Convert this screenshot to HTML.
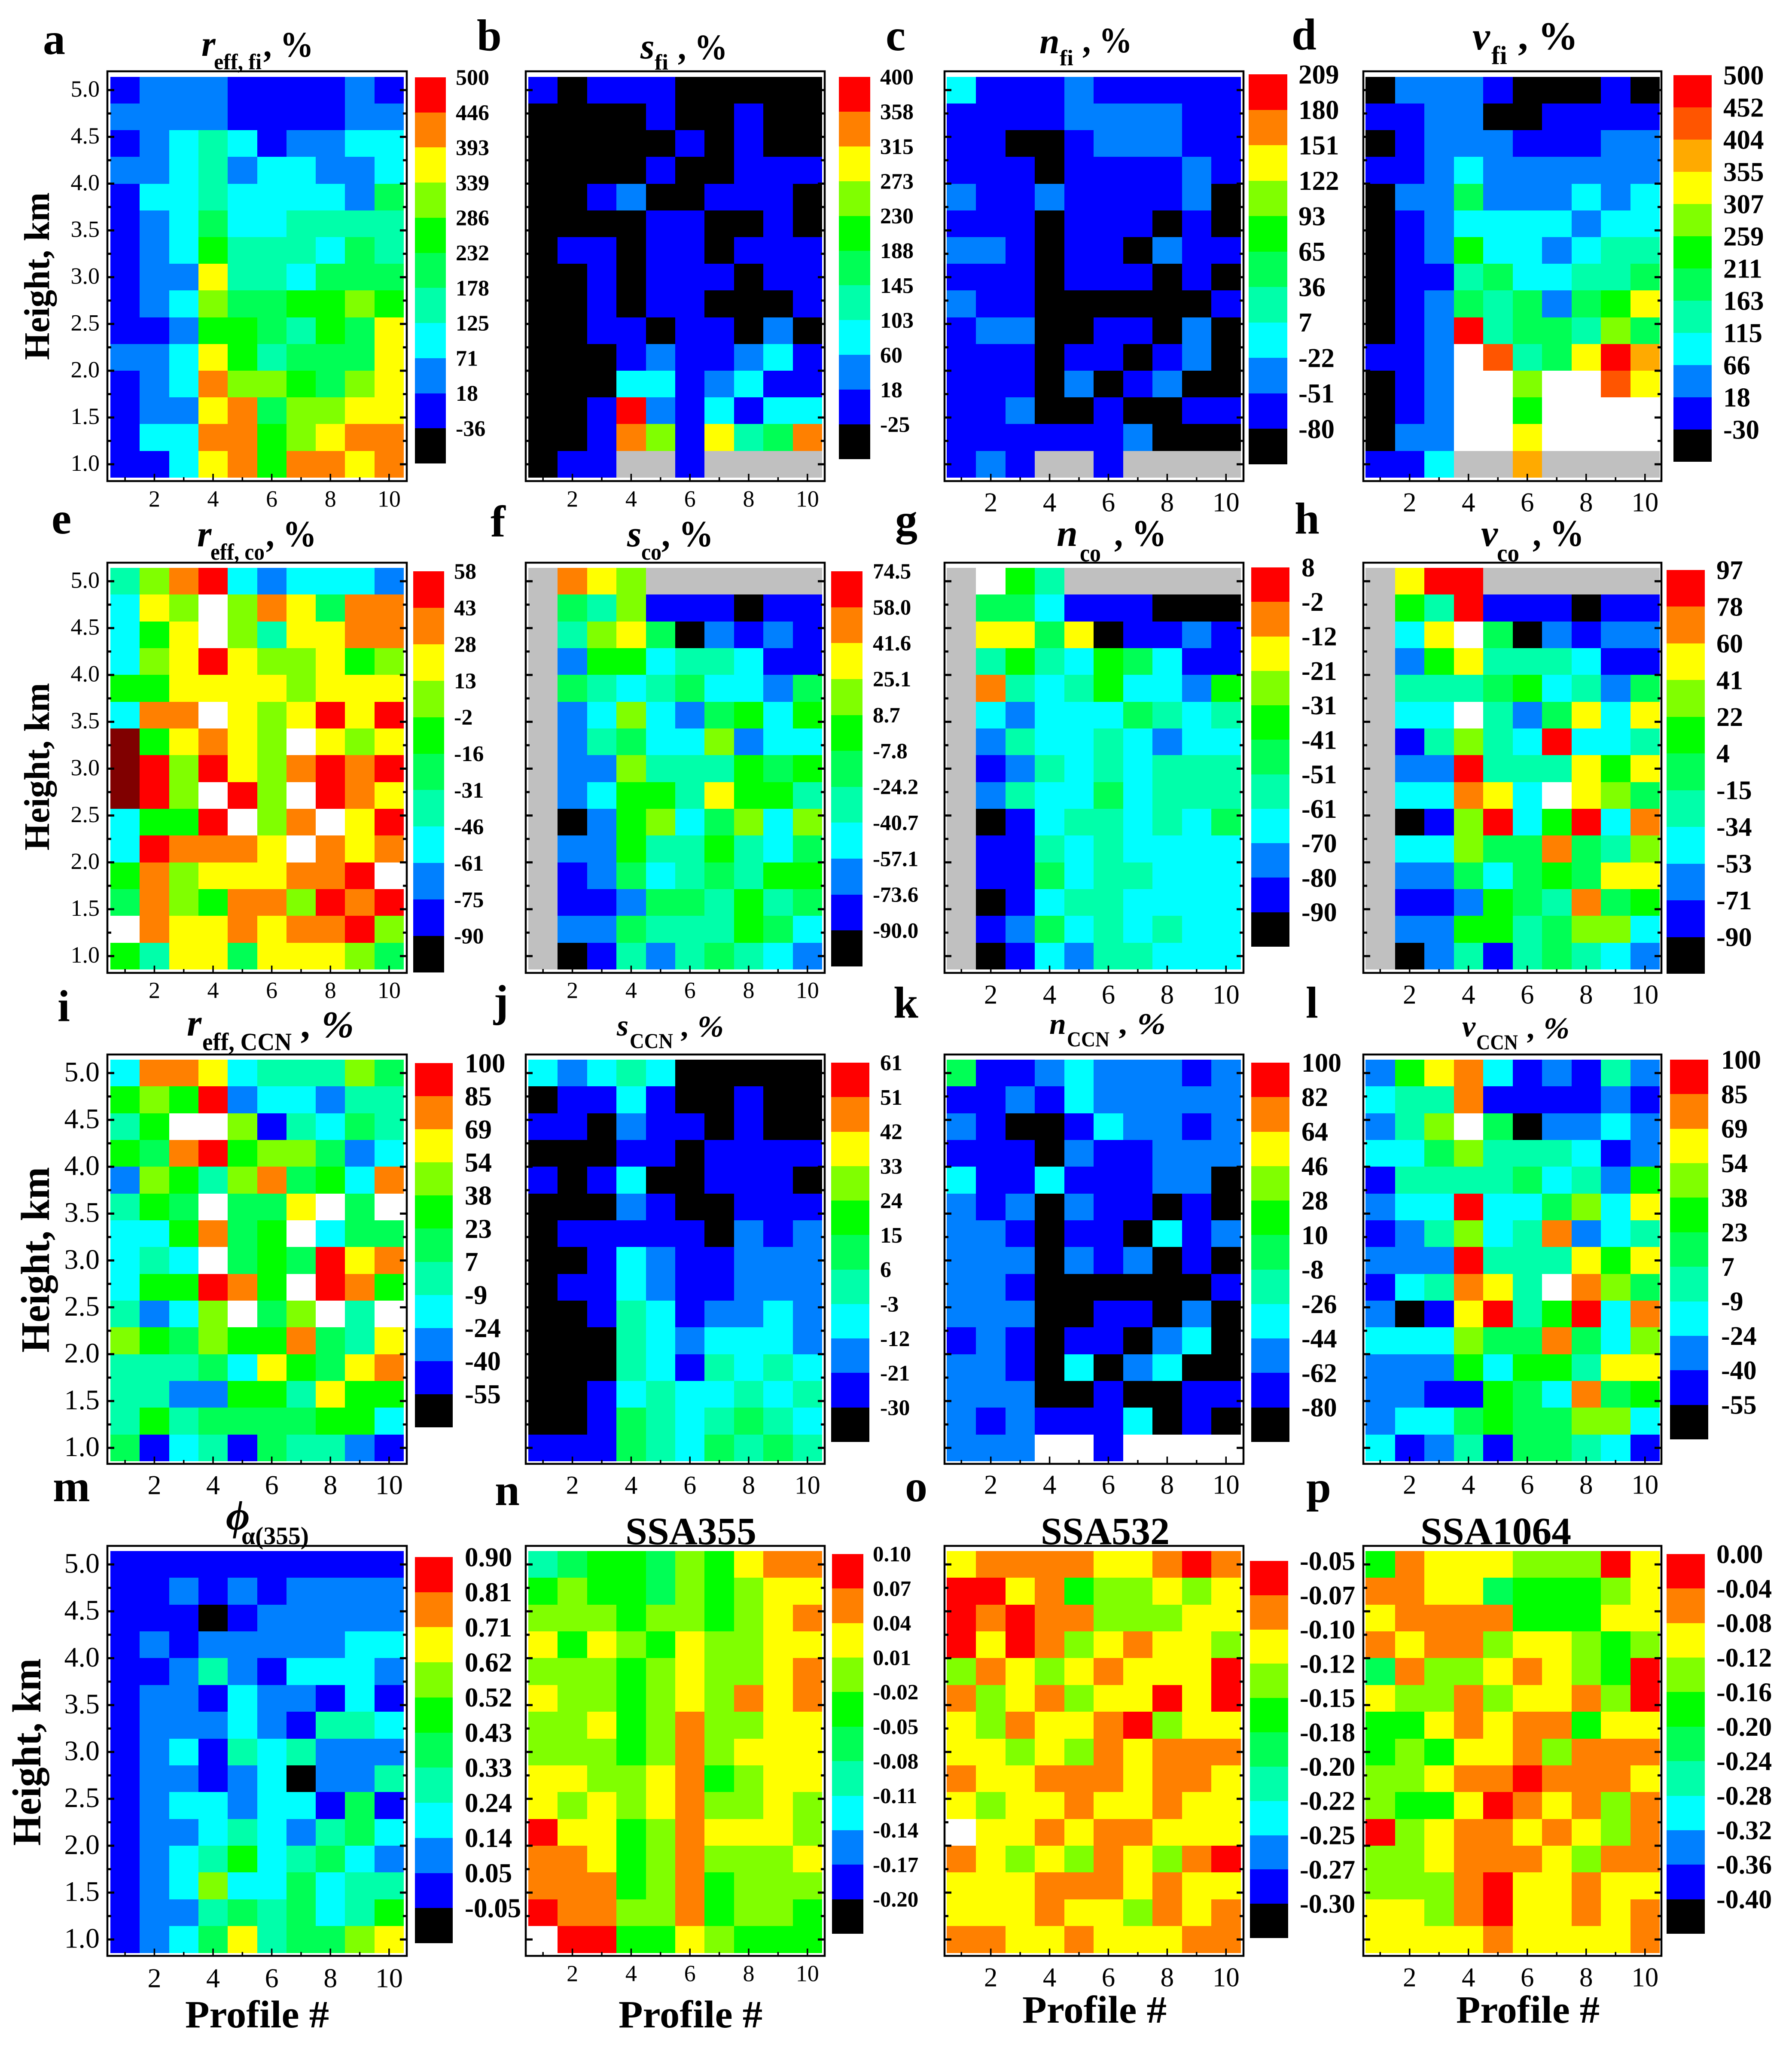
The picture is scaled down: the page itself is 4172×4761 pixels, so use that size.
<!DOCTYPE html>
<html lang="en">
<head>
<meta charset="utf-8">
<title>Heatmap panels of relative differences by profile and height</title>
<style>
html,body{margin:0;padding:0;background:#fff;}
svg{display:block;}
text{font-family:"Liberation Serif","DejaVu Serif",serif;fill:#000;}
.b{font-weight:bold;}
.bi{font-weight:bold;font-style:italic;}
</style>
</head>
<body>
<svg id="chart" xmlns="http://www.w3.org/2000/svg" width="4172" height="4761" viewBox="0 0 4172 4761">
<rect x="0" y="0" width="4172" height="4761" fill="#fff"/>
<g id="panels"></g>

<g class="b" font-size="104">
<text class="b" x="100" y="126">a</text>
<text class="b" x="1110" y="117">b</text>
<text class="b" x="2062" y="117">c</text>
<text class="b" x="3007" y="115">d</text>
<text class="b" x="120" y="1242">e</text>
<text class="b" x="1142" y="1249">f</text>
<text class="b" x="2084" y="1245">g</text>
<text class="b" x="3014" y="1242">h</text>
<text class="b" x="134" y="2377">i</text>
<text class="b" x="1149" y="2365">j</text>
<text class="b" x="2080" y="2369">k</text>
<text class="b" x="3040" y="2369">l</text>
<text class="b" x="123" y="3495">m</text>
<text class="b" x="1152" y="3504">n</text>
<text class="b" x="2107" y="3495">o</text>
<text class="b" x="3041" y="3497">p</text>
</g>

<g>
<g><text class="bi" x="469" y="130" font-size="84">r</text><text class="b" x="498" y="161" font-size="52" textLength="111" lengthAdjust="spacingAndGlyphs">eff, fi</text><text class="b" x="613" y="132" font-size="84" textLength="117" lengthAdjust="spacingAndGlyphs">, %</text></g>
<g><text class="bi" x="1491" y="136" font-size="84">s</text><text class="b" x="1524" y="162" font-size="52">fi</text><text class="b" x="1578" y="138" font-size="84" textLength="116" lengthAdjust="spacingAndGlyphs">, %</text></g>
<g><text class="bi" x="2420" y="124" font-size="84">n</text><text class="b" x="2467" y="152" font-size="52">fi</text><text class="b" x="2520" y="122" font-size="84" textLength="116" lengthAdjust="spacingAndGlyphs">, %</text></g>
<g><text class="bi" x="3428" y="115" font-size="92">v</text><text class="b" x="3472" y="149" font-size="60">fi</text><text class="b" x="3534" y="115" font-size="92" textLength="140" lengthAdjust="spacingAndGlyphs">, %</text></g>

<g><text class="bi" x="459" y="1272" font-size="86">r</text><text class="b" x="490" y="1303" font-size="54" textLength="126" lengthAdjust="spacingAndGlyphs">eff, co</text><text class="b" x="619" y="1272" font-size="86" textLength="118" lengthAdjust="spacingAndGlyphs">, %</text></g>
<g><text class="bi" x="1460" y="1272" font-size="86">s</text><text class="b" x="1493" y="1303" font-size="54" textLength="47" lengthAdjust="spacingAndGlyphs">co</text><text class="b" x="1540" y="1272" font-size="86" textLength="121" lengthAdjust="spacingAndGlyphs">, %</text></g>
<g><text class="bi" x="2460" y="1271" font-size="88">n</text><text class="b" x="2514" y="1307" font-size="58" textLength="49" lengthAdjust="spacingAndGlyphs">co</text><text class="b" x="2594" y="1271" font-size="88" textLength="122" lengthAdjust="spacingAndGlyphs">, %</text></g>
<g><text class="bi" x="3448" y="1271" font-size="88">v</text><text class="b" x="3485" y="1307" font-size="58" textLength="52" lengthAdjust="spacingAndGlyphs">co</text><text class="b" x="3568" y="1271" font-size="88" textLength="120" lengthAdjust="spacingAndGlyphs">, %</text></g>

<g><text class="bi" x="435" y="2411" font-size="88">r</text><text class="b" x="471" y="2445" font-size="58" textLength="208" lengthAdjust="spacingAndGlyphs">eff, CCN</text><text class="bi" x="703" y="2415" font-size="88" textLength="121" lengthAdjust="spacingAndGlyphs">, %</text></g>
<g><text class="bi" x="1436" y="2411" font-size="70">s</text><text class="b" x="1466" y="2440" font-size="50" textLength="101" lengthAdjust="spacingAndGlyphs">CCN</text><text class="bi" x="1587" y="2413" font-size="70" textLength="98" lengthAdjust="spacingAndGlyphs">, %</text></g>
<g><text class="bi" x="2443" y="2407" font-size="70">n</text><text class="b" x="2484" y="2436" font-size="50" textLength="99" lengthAdjust="spacingAndGlyphs">CCN</text><text class="bi" x="2607" y="2407" font-size="70" textLength="107" lengthAdjust="spacingAndGlyphs">, %</text></g>
<g><text class="bi" x="3404" y="2413" font-size="70">v</text><text class="b" x="3437" y="2443" font-size="50" textLength="97" lengthAdjust="spacingAndGlyphs">CCN</text><text class="bi" x="3557" y="2417" font-size="70" textLength="97" lengthAdjust="spacingAndGlyphs">, %</text></g>

<g><text class="bi" x="526" y="3561" font-size="96">ϕ</text><text class="b" x="562" y="3595" font-size="58" textLength="157" lengthAdjust="spacingAndGlyphs">α(355)</text></g>
<text class="b" x="1456" y="3595" font-size="90" textLength="305" lengthAdjust="spacingAndGlyphs">SSA355</text>
<text class="b" x="2423" y="3595" font-size="90" textLength="300" lengthAdjust="spacingAndGlyphs">SSA532</text>
<text class="b" x="3307" y="3595" font-size="90" textLength="351" lengthAdjust="spacingAndGlyphs">SSA1064</text>
</g>

<g>
<text class="b" font-size="84" text-anchor="middle" transform="translate(114,643) rotate(-90)" textLength="390" lengthAdjust="spacingAndGlyphs">Height, km</text>
<text class="b" font-size="84" text-anchor="middle" transform="translate(114,1785) rotate(-90)" textLength="390" lengthAdjust="spacingAndGlyphs">Height, km</text>
<text class="b" font-size="94" text-anchor="middle" transform="translate(114,2933) rotate(-90)" textLength="432" lengthAdjust="spacingAndGlyphs">Height, km</text>
<text class="b" font-size="94" text-anchor="middle" transform="translate(94,4079) rotate(-90)" textLength="436" lengthAdjust="spacingAndGlyphs">Height, km</text>
<text class="b" x="431" y="4720" font-size="90" textLength="335" lengthAdjust="spacingAndGlyphs">Profile #</text>
<text class="b" x="1440" y="4720" font-size="90" textLength="335" lengthAdjust="spacingAndGlyphs">Profile #</text>
<text class="b" x="2380" y="4709" font-size="90" textLength="336" lengthAdjust="spacingAndGlyphs">Profile #</text>
<text class="b" x="3390" y="4709" font-size="90" textLength="334" lengthAdjust="spacingAndGlyphs">Profile #</text>
</g>
</svg>

<script>
const profiles = [1,2,3,4,5,6,7,8,9,10];
const heights = [5.0,4.714,4.429,4.143,3.857,3.571,3.286,3.0,2.714,2.429,2.143,1.857,1.571,1.286,1.0];
const profileTicks = [2,4,6,8,10];
const profileMinorTicks = [1,3,5,7,9];
const heightTicks = [5.0,4.5,4.0,3.5,3.0,2.5,2.0,1.5,1.0];
const heightMinorTicks = [4.75,4.25,3.75,3.25,2.75,2.25,1.75,1.25];

const ticksA = [500,446,393,339,286,232,178,125,71,18,-36];
const ticksB = [400,358,315,273,230,188,145,103,60,18,-25];
const ticksC = [209,180,151,122,93,65,36,7,-22,-51,-80];
const ticksD = [500,452,404,355,307,259,211,163,115,66,18,-30];
const ticksE = [58,43,28,13,-2,-16,-31,-46,-61,-75,-90];
const ticksF = [74.5,58.0,41.6,25.1,8.7,-7.8,-24.2,-40.7,-57.1,-73.6,-90.0];
const ticksG = [8,-2,-12,-21,-31,-41,-51,-61,-70,-80,-90];
const ticksH = [97,78,60,41,22,4,-15,-34,-53,-71,-90];
const ticksI = [100,85,69,54,38,23,7,-9,-24,-40,-55];
const ticksJ = [61,51,42,33,24,15,6,-3,-12,-21,-30];
const ticksK = [100,82,64,46,28,10,-8,-26,-44,-62,-80];
const ticksL = [100,85,69,54,38,23,7,-9,-24,-40,-55];
const ticksM = [0.90,0.81,0.71,0.62,0.52,0.43,0.33,0.24,0.14,0.05,-0.05];
const ticksN = [0.10,0.07,0.04,0.01,-0.02,-0.05,-0.08,-0.11,-0.14,-0.17,-0.20];
const ticksO = [-0.05,-0.07,-0.10,-0.12,-0.15,-0.18,-0.20,-0.22,-0.25,-0.27,-0.30];
const ticksP = [0.00,-0.04,-0.08,-0.12,-0.16,-0.20,-0.24,-0.28,-0.32,-0.36,-0.40];

const valuesA = [
[-9,44,44,44,-9,-9,-9,-9,44,-9],
[44,44,44,44,-9,-9,-9,-9,44,44],
[-9,44,98,151,98,-9,44,44,98,98],
[44,44,98,151,44,98,98,44,44,98],
[-9,98,98,151,98,98,98,98,44,205],
[-9,44,98,205,98,98,151,151,151,151],
[-9,44,98,259,151,151,151,98,205,151],
[-9,44,44,366,151,151,98,205,205,205],
[-9,44,98,312,205,205,259,259,312,259],
[-9,-9,44,259,259,205,151,259,205,366],
[44,44,98,366,259,151,205,205,205,366],
[-9,44,98,420,312,312,259,205,312,366],
[-9,44,44,366,420,205,312,312,366,366],
[-9,98,98,420,420,259,312,366,420,420],
[-9,-9,98,366,420,259,420,420,366,420]];
const valuesB = [
[-4,-40,-4,-4,-4,-40,-40,-40,-40,-40],
[-40,-40,-40,-40,-4,-40,-40,-4,-40,-40],
[-40,-40,-40,-40,-40,-4,-40,-4,-40,-40],
[-40,-40,-40,-40,-4,-40,-40,-4,-4,-4],
[-40,-40,-4,39,-40,-40,-4,-4,-4,-40],
[-40,-40,-40,-40,-4,-4,-40,-40,-4,-40],
[-40,-4,-4,-40,-4,-4,-40,-4,-4,-4],
[-40,-40,-4,-40,-4,-4,-4,-40,-4,-4],
[-40,-40,-4,-40,-4,-4,-40,-40,-40,-4],
[-40,-40,-4,-4,-40,-4,-4,-40,39,-40],
[-40,-40,-40,-4,39,-4,-4,39,81,-4],
[-40,-40,-40,81,81,-4,39,81,-4,-4],
[-40,-40,-4,379,39,-4,81,-4,81,81],
[-40,-40,-4,336,251,-4,294,124,166,336],
[-40,-4,-4,null,null,-4,null,null,null,null]];
const valuesC = [
[-7,-65,-65,-65,-36,-65,-65,-65,-65,-65],
[-65,-65,-65,-65,-36,-36,-36,-36,-65,-65],
[-65,-65,-95,-95,-65,-36,-36,-36,-65,-65],
[-65,-65,-65,-95,-65,-65,-65,-65,-36,-65],
[-36,-65,-65,-36,-65,-65,-65,-65,-36,-95],
[-65,-65,-65,-95,-65,-65,-65,-95,-65,-95],
[-36,-36,-65,-95,-65,-65,-95,-36,-65,-65],
[-65,-65,-65,-95,-65,-65,-65,-95,-65,-95],
[-36,-65,-65,-95,-95,-95,-95,-95,-95,-65],
[-65,-36,-36,-95,-95,-65,-65,-95,-36,-95],
[-65,-65,-65,-95,-65,-65,-95,-65,-36,-95],
[-65,-65,-65,-95,-36,-95,-65,-36,-95,-95],
[-65,-65,-36,-95,-95,-65,-95,-95,-65,-65],
[-65,-65,-65,-65,-65,-65,-36,-95,-95,-95],
[-65,-36,-65,null,null,-65,null,null,null,null]];
const valuesD = [
[-45,42,42,42,-6,-45,-45,-45,-6,-45],
[-6,-6,42,42,-45,-45,-6,-6,-6,-6],
[-45,-6,42,42,42,-6,-6,-6,42,42],
[-6,-6,42,90,42,42,42,42,42,42],
[-45,42,42,187,42,42,42,90,42,90],
[-45,-6,42,90,90,90,90,42,90,90],
[-45,-6,42,235,90,90,42,90,139,139],
[-45,-6,-6,139,187,90,90,139,139,187],
[-45,-6,42,187,139,187,42,187,235,331],
[-45,-6,42,476,139,187,187,139,283,187],
[-6,-6,42,600,428,139,187,331,476,380],
[-45,-6,42,600,600,283,600,600,428,331],
[-45,-6,42,600,600,235,600,600,600,600],
[-45,42,42,600,600,331,600,600,600,600],
[-6,-6,90,null,null,380,null,null,null,null]];
const valuesE = [
[-38,5,35,50,-53,-68,-53,-53,-53,-68],
[-53,20,5,75,5,35,20,-24,35,35],
[-53,-9,20,75,5,-38,20,20,35,35],
[-53,5,20,50,20,5,5,20,-9,5],
[-9,-9,20,20,20,20,5,20,20,20],
[-53,35,35,75,20,5,20,50,20,50],
[160,-9,20,35,20,5,75,20,5,20],
[160,50,5,50,20,5,35,50,35,50],
[160,50,5,75,50,5,75,50,35,20],
[-53,-9,-9,50,75,5,35,75,20,50],
[-53,50,35,35,35,20,75,35,20,35],
[-9,35,5,20,20,20,35,35,50,75],
[-24,35,5,-9,35,35,5,50,35,50],
[75,35,20,20,35,20,35,35,50,5],
[-9,-38,20,20,-24,20,20,20,5,-24]];
const valuesF = [
[null,50,33,17,null,null,null,null,null,null],
[null,-16,-32,17,-82,-82,-82,-95,-82,-82],
[null,-32,17,33,-16,-95,-65,-82,-65,-82],
[null,-65,0,0,-49,-32,-32,-49,-82,-82],
[null,-16,-32,-49,-32,-16,-49,-49,-65,-16],
[null,-65,-49,17,-49,-65,-16,0,-49,0],
[null,-65,-32,-16,-49,-49,17,-65,-49,-49],
[null,-65,-65,17,-32,-32,-32,0,-16,0],
[null,-65,-49,0,0,-32,33,0,0,-32],
[null,-95,-65,0,17,-49,-16,17,-49,17],
[null,-65,-65,0,-32,-32,0,-32,-49,-16],
[null,-82,-65,-16,-49,-32,-16,-32,0,0],
[null,-82,-82,-65,-16,-16,-32,0,-32,-16],
[null,-65,-65,-16,-32,-32,-32,0,-16,-49],
[null,-95,-82,-32,-65,-32,-16,-32,-49,-65]];
const valuesG = [
[null,15,-36,-56,null,null,null,null,null,null],
[null,-46,-46,-65,-85,-85,-85,-95,-95,-95],
[null,-16,-16,-46,-16,-95,-85,-85,-75,-85],
[null,-56,-36,-56,-65,-36,-46,-65,-85,-85],
[null,-7,-56,-65,-56,-36,-65,-65,-75,-36],
[null,-65,-75,-65,-65,-65,-46,-56,-65,-56],
[null,-75,-56,-65,-65,-56,-65,-75,-65,-65],
[null,-85,-75,-56,-65,-56,-65,-56,-56,-56],
[null,-75,-56,-65,-65,-46,-65,-56,-56,-56],
[null,-95,-85,-65,-56,-56,-65,-56,-65,-46],
[null,-85,-85,-56,-65,-56,-65,-65,-65,-65],
[null,-85,-85,-46,-65,-56,-56,-65,-65,-65],
[null,-95,-85,-65,-56,-56,-65,-65,-65,-65],
[null,-85,-75,-46,-65,-56,-65,-56,-65,-65],
[null,-95,-85,-65,-75,-56,-56,-65,-65,-65]];
const valuesH = [
[null,50,87,87,null,null,null,null,null,null],
[null,13,-24,87,-80,-80,-80,-95,-80,-80],
[null,-43,50,115,-5,-95,-62,-80,-62,-62],
[null,-62,13,50,-24,-24,-24,-43,-80,-80],
[null,-24,-24,-24,-5,13,-43,-24,-62,-5],
[null,-43,-43,115,-24,-62,-5,50,-43,50],
[null,-80,-24,31,-24,-43,87,-43,-43,-24],
[null,-62,-62,87,-24,-24,-24,50,13,50],
[null,-43,-43,69,50,-43,115,50,31,-5],
[null,-95,-80,31,87,-43,13,87,-43,69],
[null,-43,-43,31,-5,-5,69,-5,-24,31],
[null,-62,-62,-5,-43,-5,13,-5,50,50],
[null,-80,-80,-62,13,-5,-24,69,-5,13],
[null,-62,-62,13,13,-24,-5,31,31,-43],
[null,-95,-62,-24,-80,-24,-5,-24,-43,-62]];
const valuesI = [
[-16,77,77,61,-16,-1,-1,-1,46,15],
[30,46,30,92,-32,-16,-16,-32,-1,-1],
[-1,30,120,120,46,-47,-1,-16,15,-1],
[30,15,77,92,30,46,46,15,-32,-16],
[-32,46,30,-1,46,77,15,30,-16,77],
[-1,30,15,120,15,15,61,120,15,120],
[-16,-16,30,77,15,30,120,-16,15,15],
[-16,-1,-16,120,15,30,15,92,61,77],
[-16,30,30,92,77,30,120,92,77,30],
[-1,-32,-16,46,120,15,46,120,-1,120],
[46,30,15,46,30,30,77,15,-1,61],
[-1,-1,-1,15,-16,61,30,15,61,77],
[-1,-1,-32,-32,30,30,-1,61,30,30],
[-1,30,-1,15,15,15,15,30,30,-16],
[15,-47,-16,-1,-47,15,-1,-1,-32,-47]];
const valuesJ = [
[-8,-16,-8,1,-8,-35,-35,-35,-35,-35],
[-35,-25,-25,-8,-25,-35,-35,-25,-35,-35],
[-25,-25,-35,-16,-25,-25,-35,-25,-35,-35],
[-35,-35,-35,-25,-25,-35,-25,-25,-25,-25],
[-25,-35,-25,-8,-35,-35,-25,-25,-25,-35],
[-35,-35,-35,-16,-25,-35,-35,-25,-25,-25],
[-35,-25,-25,-25,-25,-25,-35,-16,-25,-16],
[-35,-35,-25,-8,-16,-25,-25,-16,-16,-16],
[-35,-25,-25,-8,-16,-25,-25,-16,-16,-16],
[-35,-35,-25,1,-8,-25,-16,-16,-8,-16],
[-35,-35,-35,1,-8,-16,-8,-8,-8,-16],
[-35,-35,-35,1,-8,-25,1,-8,1,-8],
[-35,-35,-25,-8,1,-8,-8,1,-8,1],
[-35,-35,-25,10,1,-8,1,10,1,-8],
[-25,-25,-25,10,1,-8,10,1,10,1]];
const valuesK = [
[1,-71,-71,-53,-35,-53,-53,-53,-71,-53],
[-71,-71,-53,-71,-35,-53,-53,-53,-53,-53],
[-53,-71,-90,-90,-71,-35,-53,-53,-71,-53],
[-71,-71,-71,-90,-53,-71,-71,-53,-53,-53],
[-35,-71,-71,-35,-71,-71,-71,-53,-53,-90],
[-53,-71,-53,-90,-53,-71,-71,-90,-71,-90],
[-53,-53,-71,-90,-71,-71,-90,-35,-71,-53],
[-53,-53,-53,-90,-53,-71,-53,-90,-71,-90],
[-53,-53,-71,-90,-90,-90,-90,-90,-90,-71],
[-53,-53,-53,-90,-90,-71,-71,-90,-53,-90],
[-71,-53,-71,-90,-71,-71,-90,-53,-35,-90],
[-53,-53,-71,-90,-35,-90,-53,-35,-90,-90],
[-53,-53,-53,-90,-90,-71,-90,-90,-71,-71],
[-53,-71,-53,-71,-71,-71,-35,-90,-71,-90],
[-53,-53,-53,120,120,-71,120,120,120,120]];
const valuesL = [
[-32,30,61,77,-16,-47,-32,-47,-1,-32],
[-16,-1,-1,77,-47,-47,-47,-47,-32,-47],
[-32,-1,46,120,15,-65,-32,-32,-16,-32],
[-16,-16,15,46,-1,-1,-1,-16,-47,-32],
[-47,-1,-1,-1,-1,15,-16,-1,-32,30],
[-32,-16,-16,92,-16,-16,15,46,-16,61],
[-47,-32,-1,46,-16,-1,77,-32,-16,-1],
[-32,-32,-32,92,-1,-1,-1,61,30,61],
[-47,-16,-1,77,61,-1,120,77,46,15],
[-32,-65,-47,61,92,-1,30,92,-16,77],
[-16,-16,-16,46,15,15,77,15,-16,46],
[-32,-32,-32,30,-16,30,30,-1,61,61],
[-32,-32,-47,-47,30,15,-16,77,15,30],
[-32,-16,-16,15,30,15,15,46,46,-16],
[-16,-47,-32,-1,-47,15,15,-1,-16,-47]];
const valuesM = [
[0,0,0,0,0,0,0,0,0,0],
[0,0,0.09,0,0.09,0,0.09,0.09,0.09,0.09],
[0,0,0,-0.08,0,0.09,0.09,0.09,0.09,0.09],
[0,0.09,0,0.09,0.09,0.09,0.09,0.09,0.19,0.19],
[0,0,0.09,0.28,0.09,0,0.19,0.19,0.19,0.09],
[0,0.09,0.09,0,0.19,0.09,0.09,0,0.19,0],
[0,0.09,0.09,0.09,0.19,0.09,0,0.28,0.28,0.19],
[0,0.09,0.19,0,0.28,0.19,0.28,0.09,0.09,0.09],
[0,0.09,0.09,0,0.09,0.19,-0.08,0.09,0.09,0.28],
[0,0.09,0.19,0.19,0.09,0.19,0.19,0,0.38,0],
[0,0.09,0.09,0.19,0.28,0.19,0.09,0.28,0.38,0.19],
[0,0.09,0.19,0.28,0.47,0.19,0.28,0.38,0.19,0.09],
[0,0.09,0.19,0.57,0.19,0.19,0.38,0.19,0.28,0.28],
[0,0.09,0.09,0.28,0.38,0.28,0.38,0.19,0.28,0.47],
[0,0.09,0.19,0.38,0.66,0.28,0.38,0.38,0.57,0.66]];
const valuesN = [
[-0.095,-0.065,-0.035,-0.035,-0.065,-0.005,-0.035,0.025,0.055,0.055],
[-0.035,-0.005,-0.035,-0.035,-0.065,-0.005,-0.035,-0.005,0.025,0.025],
[-0.005,-0.005,-0.005,-0.035,-0.005,-0.005,-0.035,-0.005,0.025,0.055],
[0.025,-0.035,0.025,-0.005,-0.035,0.025,-0.005,-0.005,0.025,0.025],
[-0.005,-0.005,-0.005,-0.035,-0.005,0.025,-0.005,-0.005,0.025,0.055],
[0.025,-0.005,-0.005,-0.035,-0.005,0.025,-0.005,0.055,0.025,0.055],
[-0.005,-0.005,0.025,-0.035,-0.005,0.055,-0.005,-0.005,0.025,0.025],
[-0.005,-0.005,-0.005,-0.035,-0.005,0.055,-0.005,0.025,0.025,0.025],
[0.025,0.025,-0.005,-0.005,0.025,0.055,-0.035,-0.005,0.025,0.025],
[0.025,-0.005,0.025,-0.005,0.025,0.055,-0.005,-0.005,0.025,-0.005],
[0.085,0.025,0.025,-0.035,-0.005,0.055,0.025,0.025,0.025,-0.005],
[0.055,0.055,0.025,-0.035,-0.005,0.055,-0.005,-0.005,-0.005,0.025],
[0.055,0.055,0.055,-0.035,-0.005,0.055,-0.035,-0.005,-0.005,-0.005],
[0.085,0.055,0.055,-0.005,-0.005,0.055,-0.035,-0.005,-0.005,-0.035],
[0.13,0.085,0.085,-0.035,-0.035,0.025,-0.005,-0.035,-0.035,-0.035]];
const valuesO = [
[-0.11,-0.085,-0.085,-0.085,-0.085,-0.11,-0.11,-0.085,-0.06,-0.085],
[-0.06,-0.06,-0.11,-0.085,-0.165,-0.135,-0.135,-0.11,-0.135,-0.11],
[-0.06,-0.085,-0.06,-0.085,-0.085,-0.135,-0.135,-0.135,-0.11,-0.11],
[-0.06,-0.11,-0.06,-0.085,-0.135,-0.11,-0.085,-0.11,-0.11,-0.135],
[-0.135,-0.085,-0.11,-0.135,-0.11,-0.085,-0.11,-0.11,-0.11,-0.06],
[-0.085,-0.135,-0.11,-0.085,-0.135,-0.11,-0.11,-0.06,-0.11,-0.06],
[-0.11,-0.135,-0.085,-0.11,-0.11,-0.085,-0.06,-0.135,-0.11,-0.11],
[-0.11,-0.11,-0.135,-0.11,-0.135,-0.085,-0.11,-0.085,-0.085,-0.085],
[-0.085,-0.11,-0.11,-0.085,-0.085,-0.085,-0.11,-0.085,-0.085,-0.11],
[-0.11,-0.135,-0.11,-0.11,-0.085,-0.11,-0.11,-0.085,-0.11,-0.11],
[-0.02,-0.11,-0.11,-0.085,-0.11,-0.085,-0.085,-0.11,-0.11,-0.11],
[-0.085,-0.11,-0.135,-0.11,-0.135,-0.085,-0.11,-0.135,-0.085,-0.06],
[-0.11,-0.11,-0.11,-0.085,-0.085,-0.085,-0.11,-0.085,-0.11,-0.11],
[-0.11,-0.11,-0.11,-0.085,-0.11,-0.11,-0.135,-0.085,-0.11,-0.085],
[-0.085,-0.085,-0.11,-0.11,-0.085,-0.11,-0.11,-0.11,-0.085,-0.085]];
const valuesP = [
[-0.18,-0.06,-0.10,-0.10,-0.10,-0.14,-0.14,-0.14,-0.02,-0.10],
[-0.06,-0.06,-0.10,-0.10,-0.22,-0.18,-0.18,-0.18,-0.14,-0.10],
[-0.10,-0.06,-0.06,-0.06,-0.06,-0.18,-0.18,-0.18,-0.10,-0.10],
[-0.06,-0.10,-0.06,-0.06,-0.14,-0.10,-0.10,-0.14,-0.18,-0.14],
[-0.22,-0.06,-0.14,-0.14,-0.10,-0.06,-0.10,-0.14,-0.18,-0.02],
[-0.10,-0.14,-0.14,-0.06,-0.14,-0.10,-0.10,-0.06,-0.14,-0.02],
[-0.18,-0.18,-0.10,-0.06,-0.10,-0.06,-0.06,-0.18,-0.10,-0.10],
[-0.18,-0.14,-0.18,-0.10,-0.10,-0.06,-0.14,-0.06,-0.06,-0.06],
[-0.14,-0.14,-0.10,-0.06,-0.06,-0.02,-0.06,-0.06,-0.06,-0.10],
[-0.14,-0.18,-0.18,-0.10,-0.02,-0.06,-0.10,-0.06,-0.14,-0.06],
[-0.02,-0.14,-0.10,-0.06,-0.06,-0.10,-0.06,-0.10,-0.14,-0.06],
[-0.14,-0.14,-0.10,-0.06,-0.06,-0.06,-0.10,-0.14,-0.06,-0.06],
[-0.14,-0.14,-0.14,-0.06,-0.02,-0.10,-0.10,-0.06,-0.10,-0.10],
[-0.10,-0.10,-0.14,-0.06,-0.02,-0.10,-0.10,-0.06,-0.10,-0.06],
[-0.10,-0.10,-0.10,-0.10,-0.06,-0.10,-0.10,-0.10,-0.10,-0.06]];

const palette11 = ['#ff0000','#ff8000','#ffff00','#80ff00','#00ff00','#00ff55','#00ffaa','#00ffff','#0080ff','#0000ff','#000000'];
const palette12 = ['#ff0000','#ff5500','#ffaa00','#ffff00','#80ff00','#00ff00','#00ff55','#00ffaa','#00ffff','#0080ff','#0000ff','#000000'];

const rowBoxes = [
  {top:166,bottom:1120,cellTop:178.6,cellBottom:1112},
  {top:1310,bottom:2265,cellTop:1322,cellBottom:2257},
  {top:2455,bottom:3408,cellTop:2467,cellBottom:3402},
  {top:3599,bottom:4553.5,cellTop:3611,cellBottom:4546.5}
];
const colBoxes = [
  {left:250,right:947,cellLeft:257,cellRight:940},
  {left:1224,right:1920,cellLeft:1230,cellRight:1914},
  {left:2199,right:2895,cellLeft:2204,cellRight:2888.5},
  {left:3174,right:3868,cellLeft:3179,cellRight:3864}
];

const panels = [
 {id:'a',r:0,c:0,values:valuesA,ticks:ticksA,dec:0,bar:[966,1038,180,1079],lx:1061,fs:52,xc:1161,xs:54,ys:54},
 {id:'b',r:0,c:1,values:valuesB,ticks:ticksB,dec:0,bar:[1953,2026,179,1069],lx:2049,fs:52,xc:1161,xs:54,ys:0},
 {id:'c',r:0,c:2,values:valuesC,ticks:ticksC,dec:0,bar:[2907,2997,173,1081],lx:3023,fs:63,xc:1169,xs:63,ys:0},
 {id:'d',r:0,c:3,values:valuesD,ticks:ticksD,dec:0,bar:[3896,3985,175,1075],lx:4012,fs:63,xc:1169,xs:63,ys:0},
 {id:'e',r:1,c:0,values:valuesE,ticks:ticksE,dec:0,bar:[962,1034,1330,2264],lx:1057,fs:52,xc:2305,xs:54,ys:54,darkAbove:150},
 {id:'f',r:1,c:1,values:valuesF,ticks:ticksF,dec:1,bar:[1935,2008,1330,2250],lx:2032,fs:51,xc:2305,xs:54,ys:0},
 {id:'g',r:1,c:2,values:valuesG,ticks:ticksG,dec:0,bar:[2913,3002,1321,2204],lx:3030,fs:62,xc:2315,xs:63,ys:0},
 {id:'h',r:1,c:3,values:valuesH,ticks:ticksH,dec:0,bar:[3880,3969,1327,2267],lx:3996,fs:62,xc:2315,xs:63,ys:0},
 {id:'i',r:2,c:0,values:valuesI,ticks:ticksI,dec:0,bar:[966,1054,2475,3323],lx:1082,fs:63,xc:3457,xs:64,ys:66},
 {id:'j',r:2,c:1,values:valuesJ,ticks:ticksJ,dec:0,bar:[1935,2024,2474,3357],lx:2049,fs:52,xc:3457,xs:60,ys:0},
 {id:'k',r:2,c:2,values:valuesK,ticks:ticksK,dec:0,bar:[2913,3002,2474,3357],lx:3030,fs:62,xc:3456,xs:63,ys:0},
 {id:'l',r:2,c:3,values:valuesL,ticks:ticksL,dec:0,bar:[3888,3977,2467,3351],lx:4007,fs:62,xc:3456,xs:63,ys:0},
 {id:'m',r:3,c:0,values:valuesM,ticks:ticksM,dec:2,bar:[966,1054,3625,4524],lx:1082,fs:63,xc:4605,xs:64,ys:66},
 {id:'n',r:3,c:1,values:valuesN,ticks:ticksN,dec:2,bar:[1937,2010,3618,4502],lx:2032,fs:51,xc:4594,xs:54,ys:0},
 {id:'o',r:3,c:2,values:valuesO,ticks:ticksO,dec:2,bar:[2910,2999,3634,4512],lx:3026,fs:62,xc:4603,xs:63,ys:0},
 {id:'p',r:3,c:3,values:valuesP,ticks:ticksP,dec:2,bar:[3880,3969,3618,4502],lx:3996,fs:62,xc:4603,xs:63,ys:0}
];

const SVGNS = 'http://www.w3.org/2000/svg';
function make(parent, tag, attrs, text) {
  const el = document.createElementNS(SVGNS, tag);
  Object.keys(attrs).forEach(function (k) { el.setAttribute(k, attrs[k]); });
  if (text !== undefined) el.textContent = text;
  parent.appendChild(el);
  return el;
}
function colorFor(v, ticks, dark) {
  if (v === null) return '#c0c0c0';
  const pal = ticks.length === 12 ? palette12 : palette11;
  if (dark !== undefined && v > dark) return '#800000';
  if (v > ticks[0]) return '#ffffff';
  for (let i = 1; i < ticks.length; i++) {
    if (v >= ticks[i]) return pal[i - 1];
  }
  return pal[pal.length - 1];
}

const root = document.getElementById('panels');
panels.forEach(function (p) {
  const R = rowBoxes[p.r], C = colBoxes[p.c];
  const cw = (C.cellRight - C.cellLeft) / profiles.length;
  const rh = (R.cellBottom - R.cellTop) / heights.length;
  const xScale = function (v) { return C.cellLeft + (v - profiles[0] + 0.5) * cw; };
  const yScale = function (h) { return R.cellTop + (heights[0] - h) / (heights[0] - heights[heights.length - 1]) * (heights.length - 1) * rh + rh / 2; };

  const g = make(root, 'g', {});
  
  

  p.values.forEach(function (row, ri) {
    row.forEach(function (v, ci) {
      const x0 = Math.round(xScale(profiles[ci]) - cw / 2);
      const x1 = Math.round(xScale(profiles[ci]) + cw / 2) + (ci < row.length - 1 ? 1 : 0);
      const y0 = Math.round(yScale(heights[ri]) - rh / 2);
      const y1 = Math.round(yScale(heights[ri]) + rh / 2) + (ri < p.values.length - 1 ? 1 : 0);
      const cell = make(g, 'rect', {
        x: x0,
        y: y0,
        width: x1 - x0,
        height: y1 - y0,
        fill: colorFor(v, p.ticks, p.darkAbove),
        'shape-rendering': 'crispEdges'
      });
      
      
    });
  });

  const frame = make(g, 'rect', {x: C.left, y: R.top, width: C.right - C.left, height: R.bottom - R.top, fill: 'none', stroke: '#000', 'stroke-width': 4.5});
  
  

  const drawYTick = function (h, len, major) {
    const y = yScale(h);
    const left = make(g, 'line', {x1: C.left, x2: C.left + len, y1: y, y2: y, stroke: '#000', 'stroke-width': 5});
    
    
    const right = make(g, 'line', {x1: C.right, x2: C.right - len, y1: y, y2: y, stroke: '#000', 'stroke-width': 5});
    
    
  };
  heightTicks.forEach(function (h) {
    drawYTick(h, 16, true);
    if (p.ys) {
      const t = make(g, 'text', {x: 232, y: yScale(h) + p.ys * 0.338 - 3, 'font-size': p.ys, 'text-anchor': 'end'}, h.toFixed(1));
      
      
    }
  });
  heightMinorTicks.forEach(function (h) { drawYTick(h, 9, false); });

  profileTicks.forEach(function (v) {
    const x = xScale(v);
    const tick = make(g, 'line', {x1: x, x2: x, y1: R.bottom, y2: R.bottom - 17, stroke: '#000', 'stroke-width': 3.5});
    
    
    const t = make(g, 'text', {x: x, y: p.xc + p.xs * 0.338, 'font-size': p.xs, 'text-anchor': 'middle'}, String(v));
    
    
  });
  profileMinorTicks.forEach(function (v) {
    const x = xScale(v);
    const tick = make(g, 'line', {x1: x, x2: x, y1: R.bottom, y2: R.bottom - 9, stroke: '#000', 'stroke-width': 3.5});
    
    
  });

  const pal = p.ticks.length === 12 ? palette12 : palette11;
  const segH = (p.bar[3] - p.bar[2]) / p.ticks.length;
  p.ticks.forEach(function (tv, i) {
    const s0 = Math.round(p.bar[2] + i * segH);
    const s1 = Math.round(p.bar[2] + (i + 1) * segH) + (i < p.ticks.length - 1 ? 1 : 0);
    const seg = make(g, 'rect', {x: p.bar[0], y: s0, width: p.bar[1] - p.bar[0], height: s1 - s0, fill: pal[i], 'shape-rendering': 'crispEdges'});
    
    
    const lab = make(g, 'text', {x: p.lx, y: (p.bar[2] + i * segH + p.fs * 0.338).toFixed(2), 'font-size': p.fs, 'font-weight': 'bold'}, tv.toFixed(p.dec));
    
    
  });
});
</script>
</body>
</html>
